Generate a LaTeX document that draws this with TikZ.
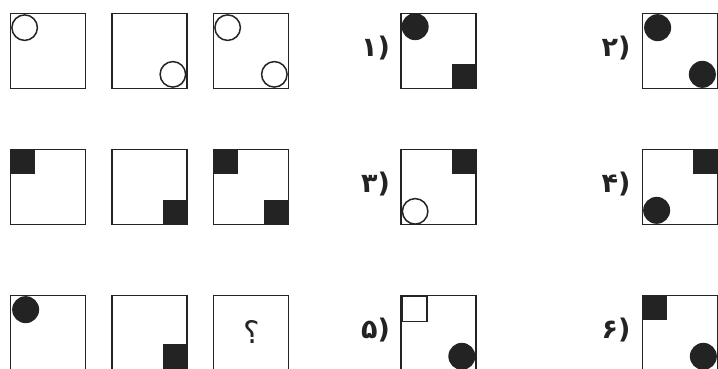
\documentclass[tikz,border=0pt]{standalone}
\usepackage{fontspec}
\usepackage{tikz}
\usetikzlibrary{positioning}
\newfontfamily\arabicfont[Script=Arabic]{DejaVu Sans}
\newfontfamily\digitfont{DejaVu Sans}
\definecolor{ink}{RGB}{35,35,35}
\tikzset{
  panel/.style={rectangle, draw=ink, line width=1.7pt, minimum size=75pt, inner sep=0pt},
  ring/.style={circle, draw=ink, line width=1.5pt, fill=white, minimum size=25.5pt, inner sep=0pt},
  dot/.style={circle, fill=ink, minimum size=27pt, inner sep=0pt},
  blk/.style={rectangle, fill=ink, minimum size=25pt, inner sep=0pt},
  hollow/.style={rectangle, draw=ink, line width=1.5pt, minimum size=25pt, inner sep=0pt},
  lbl/.style={font=\digitfont\bfseries\fontsize{27}{30}\selectfont, text=ink, inner sep=0pt, yshift=3pt},
}
\begin{document}
\begin{tikzpicture}[x=1pt, y=-1pt]
\useasboundingbox (0,0) rectangle (718,369);
\clip (0,0) rectangle (718,369);
% question grid
\node (q11) [panel] at (48,51) {};
\node (q12) [panel] at (149.5,51) {};
\node (q13) [panel] at (251,51) {};
\node (q21) [panel] at (48,187) {};
\node (q22) [panel] at (149.5,187) {};
\node (q23) [panel] at (251,187) {};
\node (q31) [panel] at (48,333) {};
\node (q32) [panel] at (149.5,333) {};
\node (q33) [panel] at (251,333) {};
\node (c11) [ring] at ([shift={(15,15)}]q11.north west) {};
\node (c12) [ring] at ([shift={(-15,-15)}]q12.south east) {};
\node (c13a) [ring] at ([shift={(15,15)}]q13.north west) {};
\node (c13b) [ring] at ([shift={(-15,-15)}]q13.south east) {};
\node (s21) [blk, anchor=north west] at (q21.north west) {};
\node (s22) [blk, anchor=south east] at (q22.south east) {};
\node (s23a) [blk, anchor=north west] at (q23.north west) {};
\node (s23b) [blk, anchor=south east] at (q23.south east) {};
\node (d31) [dot] at ([shift={(16,15)}]q31.north west) {};
\node (s32) [blk, anchor=south east] at ([shift={(0,-2)}]q32.south east) {};
\node (qm) [font=\arabicfont\fontsize{31}{34}\selectfont, text=ink] at ([shift={(1,-1)}]q33) {؟};
% answer choices
\node (o1) [panel] at (438.5,51) {};
\node (o2) [panel] at (680,51) {};
\node (o3) [panel] at (438.5,187) {};
\node (o4) [panel] at (680,187) {};
\node (o5) [panel] at (438.5,333) {};
\node (o6) [panel] at (680,333) {};
\node (n1) [lbl, left=10pt of o1] {۱)};
\node (n2) [lbl, left=11pt of o2] {۲)};
\node (n3) [lbl, left=10pt of o3] {۳)};
\node (n4) [lbl, left=11pt of o4] {۴)};
\node (n5) [lbl, left=10pt of o5] {۵)};
\node (n6) [lbl, left=11pt of o6] {۶)};
\node (d1) [dot] at ([shift={(15,14)}]o1.north west) {};
\node (s1) [blk, anchor=south east] at (o1.south east) {};
\node (d2a) [dot] at ([shift={(16,15)}]o2.north west) {};
\node (d2b) [dot] at ([shift={(-16,-15)}]o2.south east) {};
\node (s3) [blk, anchor=north east] at (o3.north east) {};
\node (c3) [ring] at ([shift={(15,-14)}]o3.south west) {};
\node (s4) [blk, anchor=north east] at (o4.north east) {};
\node (d4) [dot] at ([shift={(15,-15)}]o4.south west) {};
\node (h5) [hollow, anchor=north west] at ([shift={(1,1)}]o5.north west) {};
\node (d5) [dot] at ([shift={(-15,-15)}]o5.south east) {};
\node (s6) [blk, anchor=north west] at (o6.north west) {};
\node (d6) [dot] at ([shift={(-15,-15)}]o6.south east) {};
\end{tikzpicture}
\end{document}
